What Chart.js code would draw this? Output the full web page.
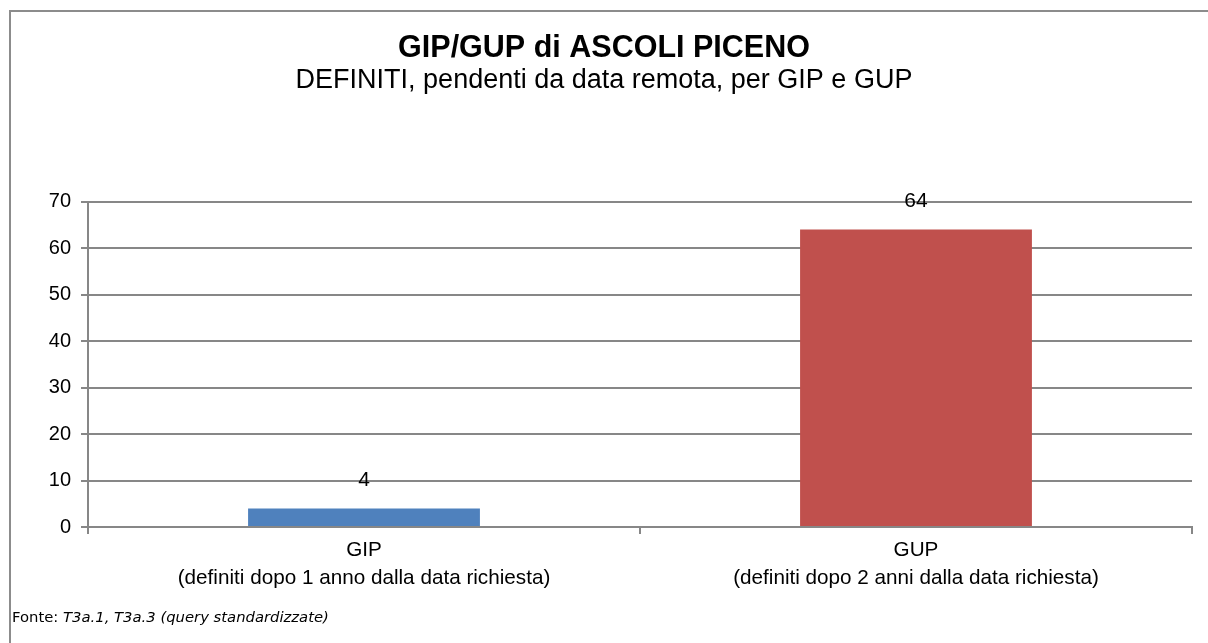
<!DOCTYPE html>
<html>
<head>
<meta charset="utf-8">
<script src="https://cdn.jsdelivr.net/npm/chart.js@4.4.1/dist/chart.umd.min.js"></script>
<style>
    html, body { margin: 0; padding: 0; background: #fff; }
    #wrap { position: relative; width: 1208px; height: 643px; }
</style>
</head>
<body>
<div id="wrap"><canvas id="bar-chart"></canvas></div>
<script>
// dati del grafico
const categorie = [
    ['GIP', '(definiti dopo 1 anno dalla data richiesta)'],
    ['GUP', '(definiti dopo 2 anni dalla data richiesta)']
];
const valori = [4, 64];
const coloriBarre = ['#4F81BD', '#C0504D'];
const scalaY = { min: 0, max: 70, passo: 10 };

const titolo = 'GIP/GUP di ASCOLI PICENO';
const sottotitolo = 'DEFINITI, pendenti da data remota, per GIP e GUP';
const fonte = 'Fonte: ';
const fonteCorsivo = 'T3a.1, T3a.3 (query standardizzate)';

const grigio = '#878787';
const fontBase = "'Liberation Sans', Arial, sans-serif";

// cornice grigia (bordo sinistro e superiore)
const cornice = {
    id: 'cornice',
    beforeDraw(chart) {
        const ctx = chart.ctx;
        ctx.save();
        ctx.fillStyle = '#fff';
        ctx.fillRect(0, 0, chart.width, chart.height);
        ctx.strokeStyle = '#8c8c8c';
        ctx.lineWidth = 2;
        ctx.beginPath();
        ctx.moveTo(10, chart.height);
        ctx.lineTo(10, 11);
        ctx.lineTo(chart.width, 11);
        ctx.stroke();
        ctx.restore();
    }
};

// valori sopra le barre
const etichette = {
    id: 'etichette',
    afterDatasetsDraw(chart) {
        const ctx = chart.ctx;
        const meta = chart.getDatasetMeta(0);
        ctx.save();
        ctx.fillStyle = '#000';
        ctx.font = '21px ' + fontBase;
        ctx.textAlign = 'center';
        ctx.textBaseline = 'middle';
        meta.data.forEach((bar, i) => {
            ctx.fillText(String(valori[i]), bar.x, bar.y - 28);
        });
        ctx.restore();
    }
};

// nota sulla fonte in basso
const notaFonte = {
    id: 'notaFonte',
    afterDraw(chart) {
        const ctx = chart.ctx;
        ctx.save();
        ctx.fillStyle = '#000';
        ctx.textBaseline = 'middle';
        ctx.font = "14.8px 'DejaVu Sans', Verdana, sans-serif";
        ctx.fillText(fonte, 12, 618);
        const w = ctx.measureText(fonte).width;
        ctx.font = "italic 14.8px 'DejaVu Sans', Verdana, sans-serif";
        ctx.fillText(fonteCorsivo, 12 + w, 618);
        ctx.restore();
    }
};

const canvas = document.getElementById('bar-chart');
new Chart(canvas, {
    type: 'bar',
    data: {
        labels: categorie,
        datasets: [{
            data: valori,
            backgroundColor: coloriBarre,
            borderWidth: 0,
            barPercentage: 0.42,
            categoryPercentage: 1
        }]
    },
    options: {
        responsive: true,
        maintainAspectRatio: false,
        animation: false,
        layout: {
            padding: { left: 16, right: 16, top: 0, bottom: 0 }
        },
        scales: {
            x: {
                offset: true,
                grid: {
                    offset: true,
                    drawOnChartArea: false,
                    drawTicks: true,
                    tickLength: 7,
                    color: grigio,
                    lineWidth: 2
                },
                border: { display: true, color: grigio, width: 2 },
                ticks: {
                    color: '#000',
                    padding: 3,
                    font: { family: fontBase, size: 20.7, lineHeight: 1.32 }
                },
                afterFit(scale) { scale.height = 116; }
            },
            y: {
                min: scalaY.min,
                max: scalaY.max,
                ticks: {
                    stepSize: scalaY.passo,
                    color: '#000',
                    padding: 10,
                    font: { family: fontBase, size: 20 }
                },
                grid: {
                    color: grigio,
                    lineWidth: 2,
                    drawTicks: true,
                    tickLength: 7
                },
                border: { display: true, color: grigio, width: 2 },
                afterFit(scale) { scale.width = 72; }
            }
        },
        plugins: {
            legend: { display: false },
            tooltip: { enabled: false },
            title: {
                display: true,
                text: titolo,
                color: '#000',
                font: { family: fontBase, size: 30.5, weight: 'bold', lineHeight: 1.2 },
                padding: { top: 30, bottom: 0 }
            },
            subtitle: {
                display: true,
                text: sottotitolo,
                color: '#000',
                font: { family: fontBase, size: 27, weight: 'normal', lineHeight: 1.0 },
                padding: { top: 0, bottom: 108 }
            }
        }
    },
    plugins: [cornice, etichette, notaFonte]
});
</script>
</body>
</html>
